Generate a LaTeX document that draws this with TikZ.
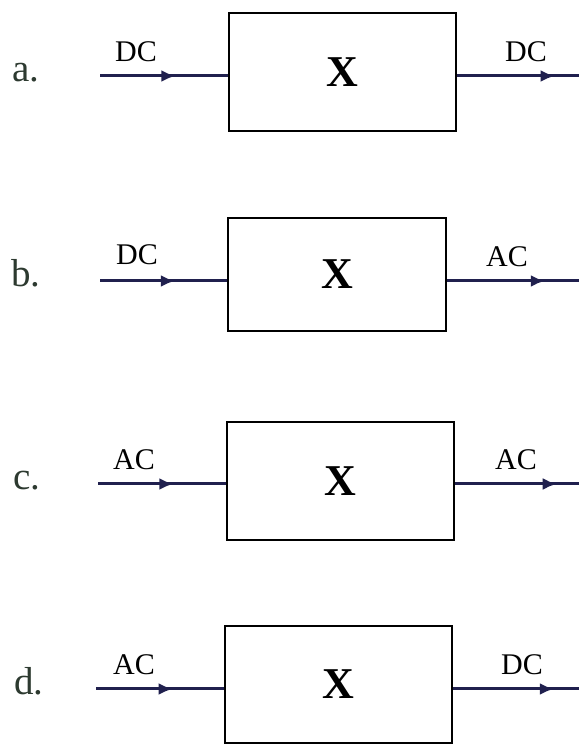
\documentclass[tikz,border=0pt]{standalone}
\usepackage{fontspec}
\setmainfont{Liberation Serif}
\usetikzlibrary{arrows.meta,decorations.markings}
\definecolor{wirecol}{RGB}{32,32,78}
\definecolor{tagcol}{RGB}{45,58,48}
\tikzset{
  block/.style={draw=black, line width=2.5pt, rectangle, minimum width=#1, minimum height=118pt, inner sep=0pt},
  wire/.style={draw=wirecol, line width=3pt},
  tipat/.style={postaction={decorate}, decoration={markings,
      mark=at position #1 with {\arrow[wirecol]{Latex[length=14pt,width=12pt]}}}},
  sig/.style={font=\fontsize{30}{36}\selectfont, inner sep=0pt},
  tag/.style={font=\fontsize{39}{44}\selectfont, text=tagcol, anchor=base, inner sep=0pt},
  big/.style={font=\fontsize{44}{50}\selectfont\bfseries}
}
\begin{document}
\begin{tikzpicture}[x=1pt,y=1pt]
\useasboundingbox (0,0) rectangle (579,745);
% a.
\node[block=227pt] (boxa) at (342.5,673) {};
\node[big] (xa) at (boxa.center) {X};
\node[tag] (taga) at (26,663) {a.};
\coordinate (ina) at (100,669);
\coordinate (outa) at (579,669);
\draw[wire, tipat=0.59] (ina) -- (ina -| boxa.west);
\draw[wire, tipat=0.8] (ina -| boxa.east) -- (outa);
\node[sig] (sigaa) at (136,693) {DC};
\node[sig] (sigab) at (526,693) {DC};
% b.
\node[block=218pt, minimum height=113pt] (boxb) at (337,470.5) {};
\node[big] (xb) at (boxb.center) {X};
\node[tag] (tagb) at (26,458) {b.};
\coordinate (inb) at (100,464);
\coordinate (outb) at (579,464);
\draw[wire, tipat=0.59] (inb) -- (inb -| boxb.west);
\draw[wire, tipat=0.74] (inb -| boxb.east) -- (outb);
\node[sig] (sigba) at (137,490) {DC};
\node[sig] (sigbb) at (507,488) {AC};
% c.
\node[block=227pt] (boxc) at (340.5,264) {};
\node[big] (xc) at (boxc.center) {X};
\node[tag] (tagc) at (27,255) {c.};
\coordinate (inc) at (98,261);
\coordinate (outc) at (579,261);
\draw[wire, tipat=0.59] (inc) -- (inc -| boxc.west);
\draw[wire, tipat=0.82] (inc -| boxc.east) -- (outc);
\node[sig] (sigca) at (134,285) {AC};
\node[sig] (sigcb) at (516,285) {AC};
% d.
\node[block=227pt, minimum height=117pt] (boxd) at (338.5,60.5) {};
\node[big] (xd) at (boxd.center) {X};
\node[tag] (tagd) at (29,50) {d.};
\coordinate (ind) at (96,56);
\coordinate (outd) at (579,56);
\draw[wire, tipat=0.6] (ind) -- (ind -| boxd.west);
\draw[wire, tipat=0.8] (ind -| boxd.east) -- (outd);
\node[sig] (sigda) at (134,80) {AC};
\node[sig] (sigdb) at (522,80) {DC};
\end{tikzpicture}
\end{document}
